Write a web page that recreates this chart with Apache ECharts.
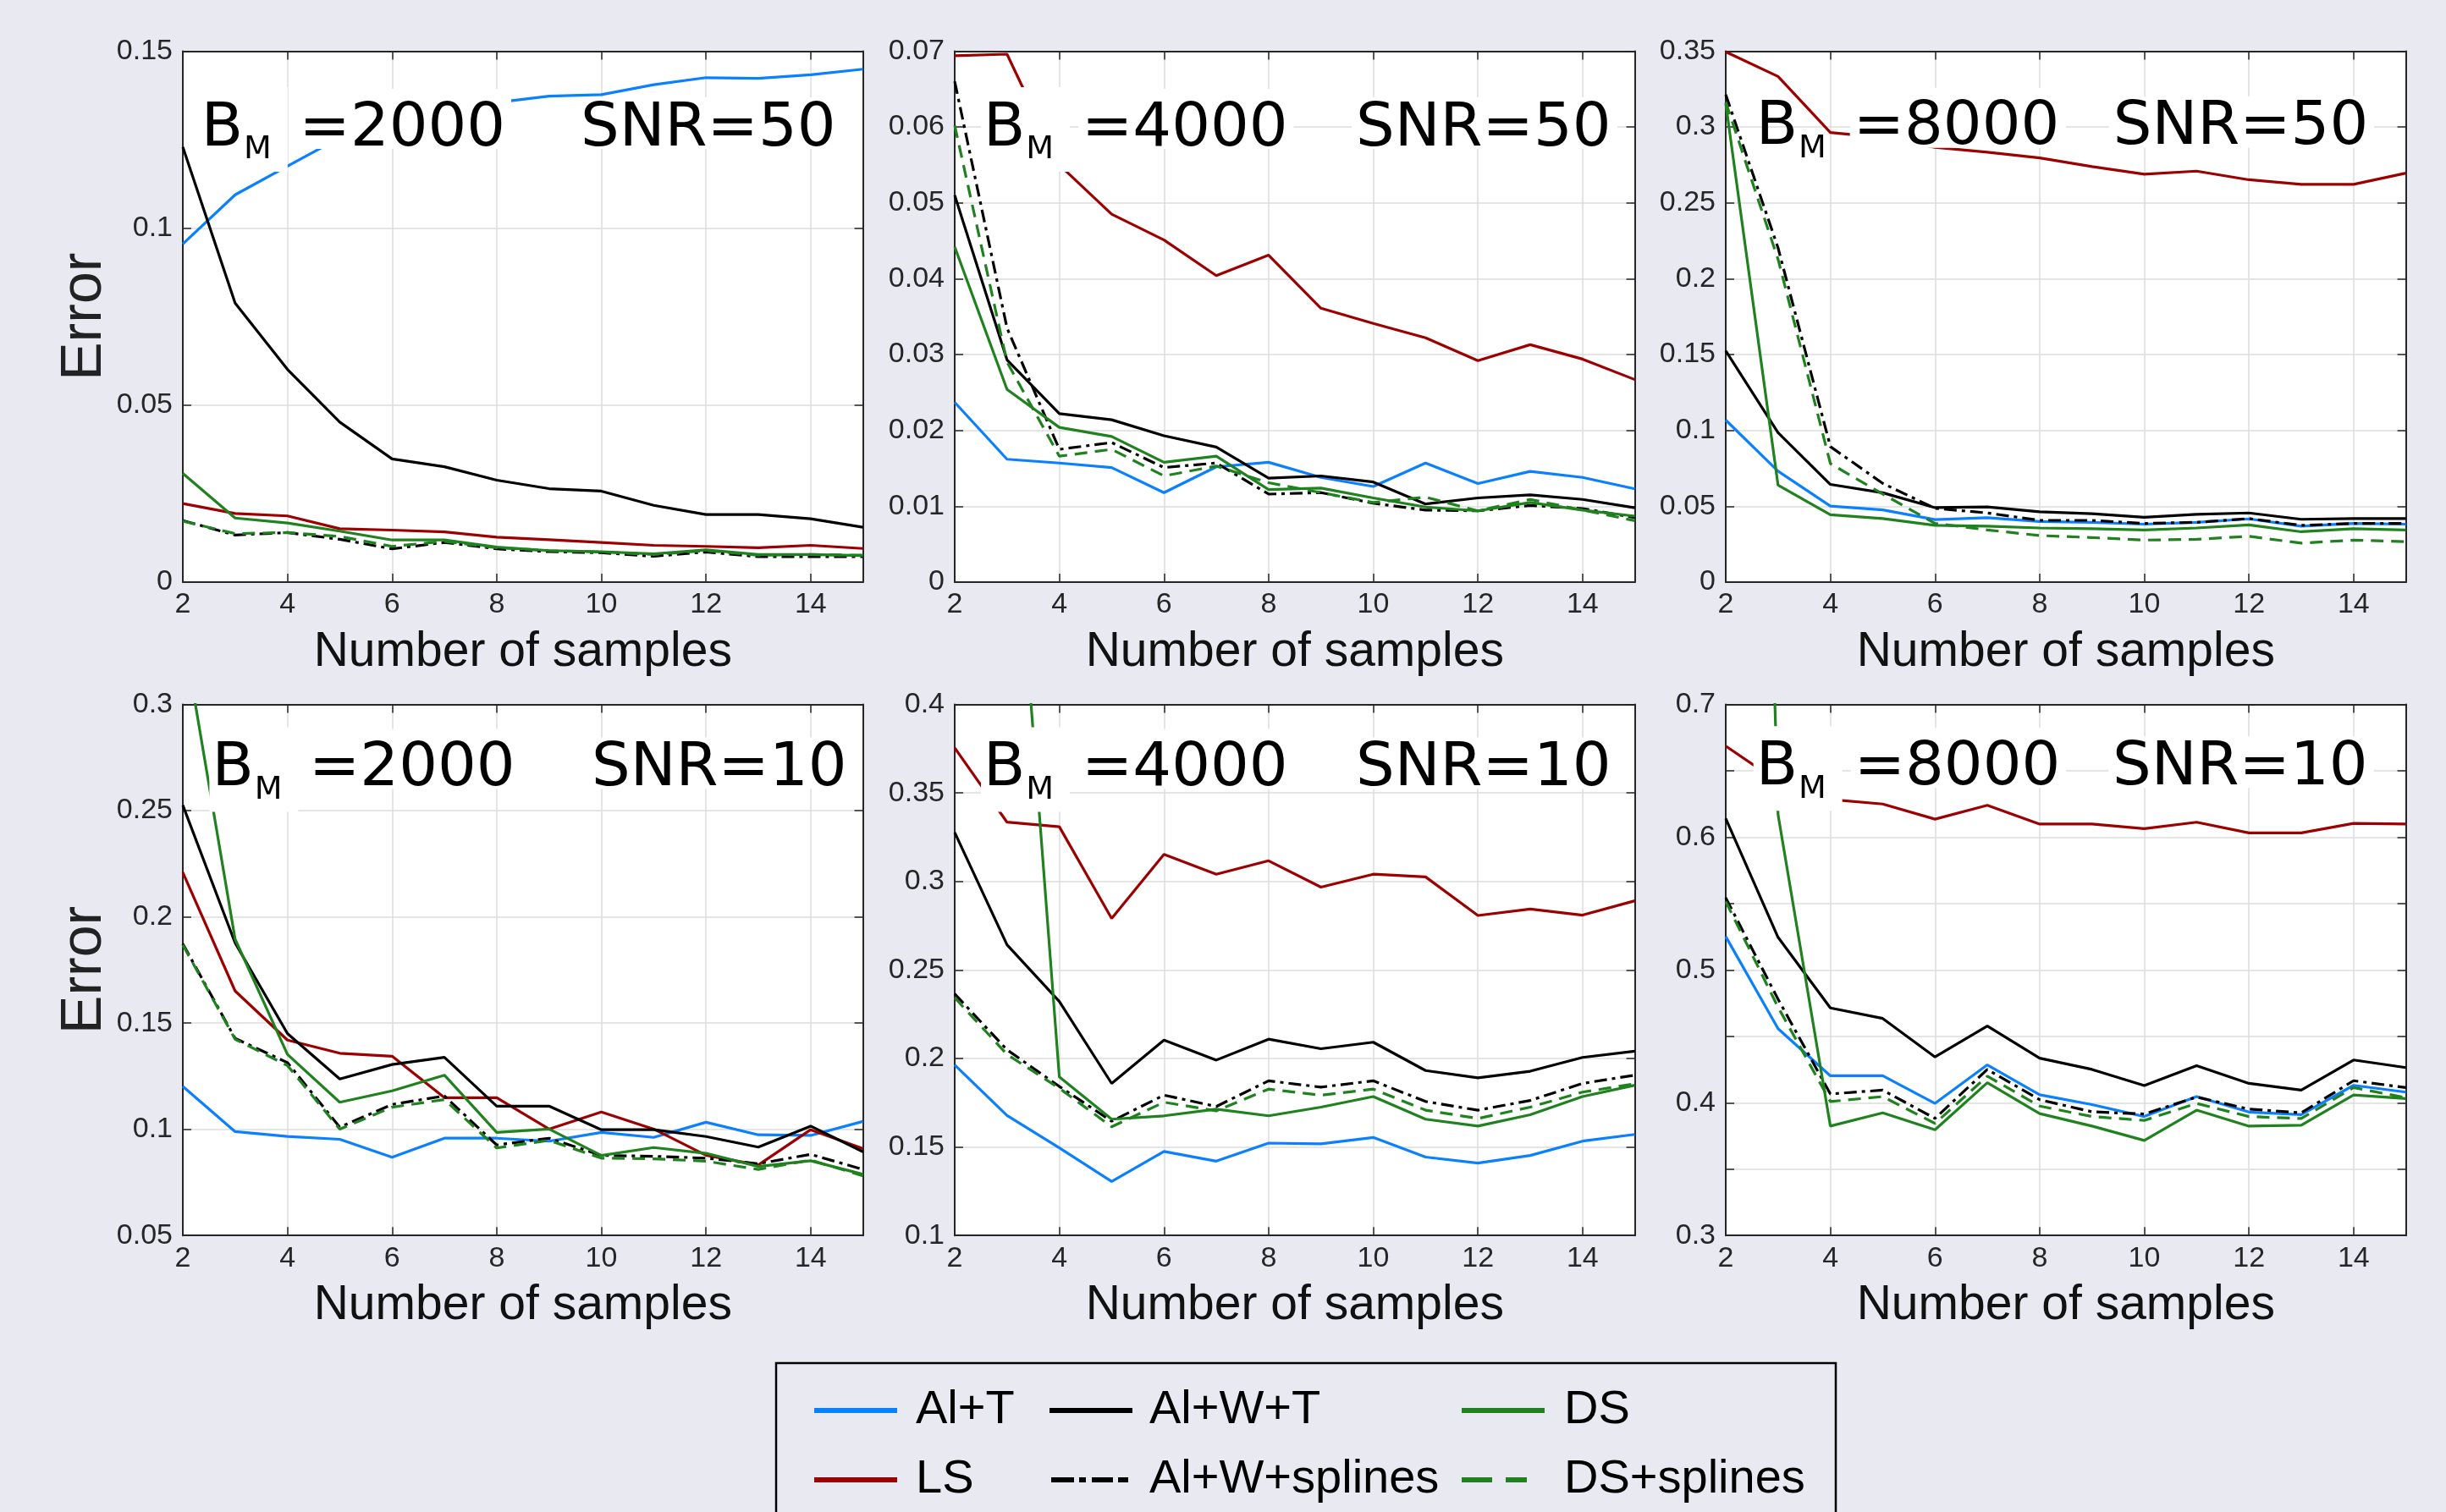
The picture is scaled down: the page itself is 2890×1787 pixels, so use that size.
<!DOCTYPE html>
<html>
<head>
<meta charset="utf-8">
<script src="https://cdn.jsdelivr.net/npm/echarts@6/dist/echarts.min.js"></script>
<style>
html,body{margin:0;padding:0;background:#e9e9f2;}
#chart{width:2890px;height:1787px;}
</style>
</head>
<body>
<div id="chart"></div>
<script>
// ---------------- DATA ----------------
const samples = [2, 3, 4, 5, 6, 7, 8, 9, 10, 11, 12, 13, 14, 15];
const methodNames = ['Al+T', 'LS', 'Al+W+T', 'Al+W+splines', 'DS', 'DS+splines'];
const bmValues = [2000, 4000, 8000, 2000, 4000, 8000];
const snrValues = [50, 50, 50, 10, 10, 10];

// x axis ticks
const xMin = 2, xMax = 15, xStep = 2;
// y axis ticks per panel
const yMins = [0, 0, 0, 0.05, 0.1, 0.3];
const yMaxs = [0.15, 0.07, 0.35, 0.3, 0.4, 0.7];
const ySteps = [0.05, 0.01, 0.05, 0.05, 0.05, 0.05];
const yLabelSteps = [0.05, 0.01, 0.05, 0.05, 0.05, 0.1];

// Panel 1: B_M=2000, SNR=50
const p1_AlT    = [0.0955,0.1094,0.1175,0.1255,0.1300,0.1330,0.1355,0.1373,0.1377,0.1405,0.1425,0.1423,0.1433,0.1449];
const p1_LS     = [0.0222,0.0194,0.0187,0.0151,0.0147,0.0142,0.0127,0.0120,0.0112,0.0104,0.0101,0.0097,0.0104,0.0095];
const p1_AlWT   = [0.1229,0.0788,0.0601,0.0452,0.0348,0.0326,0.0288,0.0264,0.0257,0.0217,0.0191,0.0191,0.0179,0.0155];
const p1_AlWspl = [0.0174,0.0133,0.0140,0.0121,0.0094,0.0112,0.0094,0.0086,0.0083,0.0073,0.0085,0.0072,0.0072,0.0072];
const p1_DS     = [0.0307,0.0181,0.0167,0.0144,0.0119,0.0119,0.0099,0.0089,0.0086,0.0080,0.0091,0.0078,0.0078,0.0075];
const p1_DSspl  = [0.0172,0.0137,0.0140,0.0129,0.0101,0.0115,0.0097,0.0089,0.0085,0.0078,0.0089,0.0076,0.0078,0.0076];

// Panel 2: B_M=4000, SNR=50
const p2_AlT    = [0.0237,0.0162,0.0157,0.0151,0.0118,0.0152,0.0158,0.0138,0.0126,0.0157,0.0130,0.0146,0.0138,0.0123];
const p2_LS     = [0.0694,0.0696,0.0550,0.0485,0.0451,0.0404,0.0431,0.0361,0.0341,0.0322,0.0292,0.0313,0.0294,0.0267];
const p2_AlWT   = [0.0510,0.0293,0.0222,0.0214,0.0193,0.0178,0.0137,0.0140,0.0132,0.0103,0.0111,0.0115,0.0109,0.0098];
const p2_AlWspl = [0.0660,0.0335,0.0175,0.0184,0.0151,0.0157,0.0116,0.0118,0.0104,0.0095,0.0094,0.0101,0.0097,0.0085];
const p2_DS     = [0.0442,0.0254,0.0204,0.0192,0.0158,0.0166,0.0122,0.0124,0.0111,0.0099,0.0094,0.0105,0.0095,0.0087];
const p2_DSspl  = [0.0602,0.0290,0.0166,0.0175,0.0140,0.0153,0.0131,0.0118,0.0105,0.0112,0.0094,0.0109,0.0095,0.0081];

// Panel 3: B_M=8000, SNR=50
const p3_AlT    = [0.1068,0.0731,0.0501,0.0476,0.0412,0.0424,0.0399,0.0394,0.0382,0.0394,0.0417,0.0369,0.0387,0.0382];
const p3_LS     = [0.3495,0.3333,0.2963,0.2930,0.2866,0.2834,0.2796,0.2739,0.2689,0.2709,0.2652,0.2622,0.2622,0.2696];
const p3_AlWT   = [0.1524,0.0985,0.0644,0.0589,0.0491,0.0496,0.0464,0.0451,0.0427,0.0447,0.0456,0.0414,0.0419,0.0419];
const p3_AlWspl = [0.3213,0.2203,0.0893,0.0651,0.0486,0.0456,0.0407,0.0407,0.0387,0.0394,0.0419,0.0374,0.0387,0.0387];
const p3_DS     = [0.3155,0.0639,0.0444,0.0419,0.0374,0.0369,0.0357,0.0352,0.0344,0.0357,0.0377,0.0332,0.0352,0.0344];
const p3_DSspl  = [0.3163,0.2128,0.0781,0.0581,0.0387,0.0344,0.0307,0.0294,0.0277,0.0282,0.0302,0.0257,0.0277,0.0267];

// Panel 4: B_M=2000, SNR=10
const p4_AlT    = [0.1202,0.0989,0.0966,0.0953,0.0868,0.0958,0.0958,0.0944,0.0985,0.0962,0.1033,0.0974,0.0971,0.1037];
const p4_LS     = [0.2209,0.1651,0.1420,0.1358,0.1344,0.1149,0.1149,0.1001,0.1081,0.1001,0.0878,0.0832,0.0998,0.0909];
const p4_AlWT   = [0.2526,0.1877,0.1451,0.1237,0.1305,0.1339,0.1109,0.1109,0.0998,0.0998,0.0966,0.0916,0.1015,0.0894];
const p4_AlWspl = [0.1873,0.1428,0.1314,0.1010,0.1117,0.1157,0.0926,0.0958,0.0877,0.0873,0.0864,0.0838,0.0882,0.0811];
const p4_DS     = [0.3350,0.1895,0.1353,0.1127,0.1181,0.1255,0.0985,0.1001,0.0877,0.0914,0.0887,0.0825,0.0852,0.0788];
const p4_DSspl  = [0.1868,0.1424,0.1300,0.1001,0.1104,0.1140,0.0912,0.0948,0.0864,0.0861,0.0850,0.0811,0.0855,0.0781];

// Panel 5: B_M=4000, SNR=10
const p5_AlT    = [0.1964,0.1678,0.1495,0.1305,0.1475,0.1420,0.1522,0.1518,0.1554,0.1443,0.1409,0.1452,0.1533,0.1571];
const p5_LS     = [0.3755,0.3335,0.3309,0.2791,0.3153,0.3041,0.3117,0.2968,0.3041,0.3026,0.2808,0.2844,0.2810,0.2891];
const p5_AlWT   = [0.3277,0.2642,0.2322,0.1859,0.2104,0.1991,0.2109,0.2055,0.2092,0.1932,0.1891,0.1928,0.2006,0.2041];
const p5_AlWspl = [0.2365,0.2049,0.1842,0.1646,0.1793,0.1729,0.1874,0.1838,0.1874,0.1757,0.1708,0.1763,0.1859,0.1906];
const p5_DS     = [0.9500,0.5790,0.1896,0.1657,0.1676,0.1714,0.1676,0.1725,0.1785,0.1657,0.1618,0.1682,0.1785,0.1849];
const p5_DSspl  = [0.2343,0.2023,0.1832,0.1614,0.1753,0.1704,0.1827,0.1793,0.1827,0.1708,0.1661,0.1725,0.1810,0.1857];

// Panel 6: B_M=8000, SNR=10
const p6_AlT    = [0.5252,0.4558,0.4203,0.4203,0.3995,0.4285,0.4060,0.3986,0.3896,0.4046,0.3930,0.3910,0.4131,0.4080];
const p6_LS     = [0.6687,0.6418,0.6284,0.6250,0.6136,0.6241,0.6099,0.6099,0.6065,0.6113,0.6033,0.6033,0.6104,0.6099];
const p6_AlWT   = [0.6141,0.5246,0.4714,0.4635,0.4345,0.4578,0.4336,0.4251,0.4129,0.4279,0.4146,0.4095,0.4322,0.4265];
const p6_AlWspl = [0.5544,0.4780,0.4066,0.4095,0.3882,0.4251,0.4023,0.3932,0.3915,0.4043,0.3952,0.3924,0.4166,0.4114];
const p6_DS     = [2.0000,0.6170,0.3824,0.3924,0.3796,0.4151,0.3918,0.3824,0.3716,0.3944,0.3824,0.3830,0.4058,0.4032];
const p6_DSspl  = [0.5516,0.4720,0.4009,0.4046,0.3844,0.4200,0.3975,0.3896,0.3867,0.3995,0.3896,0.3881,0.4114,0.4038];

const panelSeries = [
  [p1_AlT, p1_LS, p1_AlWT, p1_AlWspl, p1_DS, p1_DSspl],
  [p2_AlT, p2_LS, p2_AlWT, p2_AlWspl, p2_DS, p2_DSspl],
  [p3_AlT, p3_LS, p3_AlWT, p3_AlWspl, p3_DS, p3_DSspl],
  [p4_AlT, p4_LS, p4_AlWT, p4_AlWspl, p4_DS, p4_DSspl],
  [p5_AlT, p5_LS, p5_AlWT, p5_AlWspl, p5_DS, p5_DSspl],
  [p6_AlT, p6_LS, p6_AlWT, p6_AlWspl, p6_DS, p6_DSspl]
];

// ---------------- STYLE / LAYOUT ----------------
const BLUE = '#0a80ff', RED = '#9c0000', BLACK = '#000000', GREEN = '#1f821f';
const lineStyles = [
  {color: BLUE,  type: 'solid'},
  {color: RED,   type: 'solid'},
  {color: BLACK, type: 'solid'},
  {color: BLACK, type: [15, 6, 4, 6]},
  {color: GREEN, type: 'solid'},
  {color: GREEN, type: [15, 9]}
];
// legend icon shapes (solid bar, dash-dot, dashes)
const ICON_SOLID = 'path://M0,0H98V6H0Z';
const ICON_DASHDOT = 'path://M0,0H27V6H0Z M33,0H41V6H33Z M48,0H73V6H48Z M79,0H91V6H79Z';
const ICON_DASH = 'path://M0,0H36V6H0Z M52,0H77V6H52Z';
const legendIcons = [ICON_SOLID, ICON_SOLID, ICON_SOLID, ICON_DASHDOT, ICON_SOLID, ICON_DASH];
const legendIconW = [98, 98, 98, 91, 98, 77];

const gridLefts = [216, 1128, 2039, 216, 1128, 2039];
const gridTops = [60.4, 60.4, 60.4, 832.6, 832.6, 832.6];
const gridW = 803.6, gridH = 627.6;

// annotation ink positions (px)
const annot = [
  {bx: 244.8, eqx: 359.6, eqR: 592,   sx: 691,    sR: 986.5, base: 173,   bBox: true},
  {bx: 1169,  eqx: 1284,  eqR: 1516.5, sx: 1607,  sR: 1901,  base: 173,   bBox: true},
  {bx: 2081.7,eqx: 2195.7,eqR: 2429,  sx: 2501.7, sR: 2795,  base: 171.7, bBox: false},
  {bx: 257.4, eqx: 371,   eqR: 603.6, sx: 704,    sR: 996.8, base: 929.5, bBox: true},
  {bx: 1169,  eqx: 1284,  eqR: 1516.5, sx: 1607,  sR: 1901,  base: 929.5, bBox: true},
  {bx: 2081.7,eqx: 2196.7,eqR: 2429,  sx: 2501,   sR: 2795,  base: 928.3, bBox: true}
];

const AXIS_COLOR = '#262626';
const GRID_COLOR = '#dcdcdc';
const TICK_FONT = 'Liberation Sans';
const ANN_FONT = 'DejaVu Sans';
const TEXT_DY = -20;   // middle-anchor offset relative to baseline

function fmt(v, step) {
  const r = v / step;
  if (Math.abs(r - Math.round(r)) > 1e-6) return '';
  return String(parseFloat(v.toFixed(4)));
}

const grids = [], xAxes = [], yAxes = [], series = [];
for (let p = 0; p < 6; p++) {
  grids.push({
    left: gridLefts[p], top: gridTops[p], width: gridW, height: gridH,
    show: true, backgroundColor: '#ffffff', borderWidth: 0, containLabel: false
  });
  const isLeft = (p % 3 === 0);
  xAxes.push({
    type: 'value', gridIndex: p, position: 'bottom',
    min: xMin, max: xMax, interval: xStep,
    name: 'Number of samples', nameLocation: 'middle', nameGap: 55,
    nameTextStyle: {fontFamily: TICK_FONT, fontSize: 57, color: '#111', lineHeight: 57},
    axisLine: {show: true, onZero: false, lineStyle: {color: AXIS_COLOR, width: 2}},
    axisTick: {show: true, inside: true, length: 10, lineStyle: {color: AXIS_COLOR, width: 1.5}},
    axisLabel: {show: true, margin: 10, fontFamily: TICK_FONT, fontSize: 34, color: AXIS_COLOR,
                showMaxLabel: false, showMinLabel: true,
                formatter: v => fmt(v, xStep)},
    splitLine: {show: true, lineStyle: {color: GRID_COLOR, width: 1.5}}
  });
  xAxes.push({
    type: 'value', gridIndex: p, position: 'top',
    min: xMin, max: xMax, interval: xStep,
    axisLine: {show: true, onZero: false, lineStyle: {color: AXIS_COLOR, width: 2}},
    axisTick: {show: true, inside: true, length: 10, lineStyle: {color: AXIS_COLOR, width: 1.5}},
    axisLabel: {show: false},
    splitLine: {show: false}
  });
  yAxes.push({
    type: 'value', gridIndex: p, position: 'left',
    min: yMins[p], max: yMaxs[p], interval: ySteps[p],
    name: isLeft ? 'Error' : '', nameLocation: 'middle', nameGap: 79, nameRotate: 90,
    nameTextStyle: {fontFamily: TICK_FONT, fontSize: 68, color: '#222', lineHeight: 68},
    axisLine: {show: true, onZero: false, lineStyle: {color: AXIS_COLOR, width: 2}},
    axisTick: {show: true, inside: true, length: 10, lineStyle: {color: AXIS_COLOR, width: 1.5}},
    axisLabel: {show: true, margin: 12, fontFamily: TICK_FONT, fontSize: 34, color: AXIS_COLOR,
                formatter: (ls => (v => fmt(v, ls)))(yLabelSteps[p])},
    splitLine: {show: true, lineStyle: {color: GRID_COLOR, width: 1.5}}
  });
  yAxes.push({
    type: 'value', gridIndex: p, position: 'right',
    min: yMins[p], max: yMaxs[p], interval: ySteps[p],
    axisLine: {show: true, onZero: false, lineStyle: {color: AXIS_COLOR, width: 2}},
    axisTick: {show: true, inside: true, length: 10, lineStyle: {color: AXIS_COLOR, width: 1.5}},
    axisLabel: {show: false},
    splitLine: {show: false}
  });
  for (let m = 0; m < 6; m++) {
    const vals = panelSeries[p][m];
    series.push({
      name: methodNames[m], type: 'line',
      xAxisIndex: 2 * p, yAxisIndex: 2 * p,
      data: samples.map((x, i) => [x, vals[i]]),
      symbol: 'none', showSymbol: false, clip: true, silent: true,
      lineStyle: {color: lineStyles[m].color, width: 3.2, type: lineStyles[m].type},
      itemStyle: {color: lineStyles[m].color},
      z: 2 + m * 0.01
    });
  }
}

// legend: 3 columns x 2 rows, column-major order
const legendIconX = [962, 1240, 1727];
const legendTextX = [1082, 1358, 1848];
const legendRowY = [1667, 1749];
const legends = methodNames.map((n, i) => {
  const c = Math.floor(i / 2), r = i % 2;
  const iconLeft = legendIconX[c] + (i === 3 ? 2 : 0);
  const w = legendIconW[i];
  return {
    data: [{name: n, icon: legendIcons[i]}], selectedMode: false, orient: 'horizontal',
    left: iconLeft, top: legendRowY[r] - 30, padding: 0,
    itemWidth: w, itemHeight: 6, itemGap: 0,
    textStyle: {fontFamily: TICK_FONT, fontSize: 56, color: '#000', lineHeight: 60,
                padding: [0, 0, 0, legendTextX[c] - iconLeft - w - 5]},
    itemStyle: {color: lineStyles[i].color, borderWidth: 0}
  };
});

// graphic: annotation boxes + text, legend frame
const elements = [];
for (let p = 0; p < 6; p++) {
  const a = annot[p];
  if (a.bBox) {
    elements.push({type: 'rect', z: 100, shape: {x: a.bx - 10, y: a.base - 70, width: 105, height: 100},
      style: {fill: '#ffffff'}, silent: true});
  }
  elements.push({type: 'rect', z: 100, shape: {x: a.eqx - 10, y: a.base - 68, width: a.eqR - a.eqx + 22, height: 71},
    style: {fill: '#ffffff'}, silent: true});
  elements.push({type: 'rect', z: 100, shape: {x: a.sx - 10, y: a.base - 58, width: a.sR - a.sx + 20, height: 61},
    style: {fill: '#ffffff'}, silent: true});
  elements.push({type: 'text', z: 101, silent: true,
    style: {text: 'B', x: a.bx - 7, y: a.base + TEXT_DY, fill: '#000', font: '72px "' + ANN_FONT + '"', align: 'left', verticalAlign: 'middle'}});
  elements.push({type: 'text', z: 101, silent: true,
    style: {text: 'M', x: a.bx + 43.3, y: a.base + 15 - 10.5, fill: '#000', font: '38px "' + ANN_FONT + '"', align: 'left', verticalAlign: 'middle'}});
  elements.push({type: 'text', z: 101, silent: true,
    style: {text: '=' + bmValues[p], x: a.eqx - 6, y: a.base + TEXT_DY, fill: '#000', font: '72px "' + ANN_FONT + '"', align: 'left', verticalAlign: 'middle'}});
  elements.push({type: 'text', z: 101, silent: true,
    style: {text: 'SNR=' + snrValues[p], x: a.sx - 5, y: a.base + TEXT_DY, fill: '#000', font: '72px "' + ANN_FONT + '"', align: 'left', verticalAlign: 'middle'}});
}
elements.push({type: 'rect', z: 90, silent: true,
  shape: {x: 917, y: 1611, width: 1252, height: 300},
  style: {fill: 'none', stroke: '#000', lineWidth: 2.5}});

const chart = echarts.init(document.getElementById('chart'), null, {renderer: 'canvas'});
chart.setOption({
  backgroundColor: '#e9e9f2',
  animation: false,
  grid: grids,
  xAxis: xAxes,
  yAxis: yAxes,
  legend: legends,
  series: series,
  graphic: {elements: elements}
});
</script>
</body>
</html>
